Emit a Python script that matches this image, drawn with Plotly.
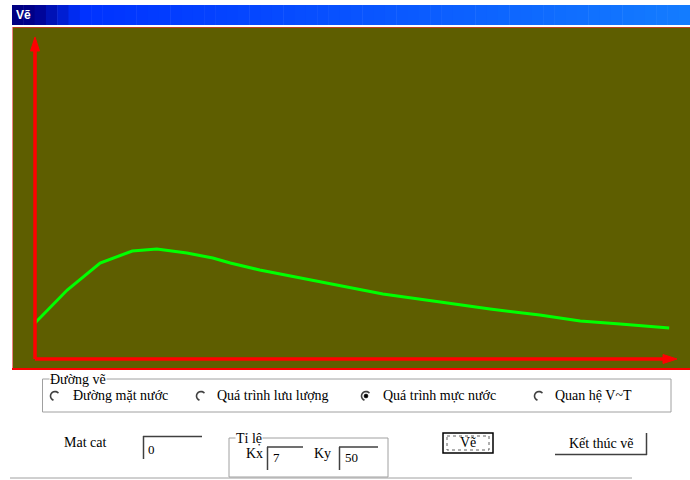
import math
import plotly.graph_objects as go

# ---- data (water level process) ----
time_h = [0, 4.6, 9.3, 13.9, 17.4, 21.7, 25.4, 27.9, 32.1, 37.9, 43.6, 49.7, 57.9, 65.0, 72.1, 77.9, 83.6, 90.6]
level = [36, 69, 96, 108, 110, 106, 101, 96, 89, 81, 73, 65, 57, 50, 44, 38, 35, 31]

radio_labels = ["Đường mặt nước", "Quá trình lưu lượng", "Quá trình mực nước", "Quan hệ V~T"]
group_title = "Đường vẽ"
scale_title = "Tỉ lệ"
kx_value = "7"
ky_value = "50"
section_value = "0"

W, H = 690, 480
L, R, T, B = 12, 0, 27, 110
PW, PH = W - L - R, H - T - B
XS = 7.0  # px per hour
XMIN = -(35 - L) / XS
XMAX = (W - 35) / XS
YMIN = -(370 - 359)
YMAX = 359 - 27

FS = 14


def px(x):
    return (x - L) / PW


def py(y):
    return (H - B - y) / PH


shapes = []
annos = []


def rect(x0, y0, x1, y1, fill=None, line=None, lw=1, dash=None):
    d = dict(type="rect", xref="paper", yref="paper", x0=px(x0), x1=px(x1), y0=py(y0), y1=py(y1),
             layer="above")
    d["fillcolor"] = fill if fill else "rgba(0,0,0,0)"
    if line:
        d["line"] = dict(color=line, width=lw, dash=dash) if dash else dict(color=line, width=lw)
    else:
        d["line"] = dict(width=0)
    shapes.append(d)


def hline(x0, x1, y, color, lw=1):
    shapes.append(dict(type="line", xref="paper", yref="paper", x0=px(x0), x1=px(x1), y0=py(y), y1=py(y),
                       line=dict(color=color, width=lw), layer="above"))


def vline(x, y0, y1, color, lw=1):
    shapes.append(dict(type="line", xref="paper", yref="paper", x0=px(x), x1=px(x), y0=py(y0), y1=py(y1),
                       line=dict(color=color, width=lw), layer="above"))


def text(x, y, s, size=FS, anchor="left", color="black", bg=None, family="Liberation Serif", bold=False):
    a = dict(xref="paper", yref="paper", x=px(x), y=py(y), text=("<b>%s</b>" % s) if bold else s,
             showarrow=False, xanchor=anchor, yanchor="middle",
             font=dict(family=family, size=size, color=color))
    if bg:
        a["bgcolor"] = bg
        a["borderpad"] = 0
    annos.append(a)


# ---- title bar gradient ----
stops = [(12, (0, 0, 128)), (35, (0, 0, 140)), (80, (0, 50, 255)), (690, (20, 125, 255))]
n = 60
for i in range(n):
    xa = 12 + (690 - 12) * i / n
    xb = 12 + (690 - 12) * (i + 1) / n
    xm = (xa + xb) / 2
    for j in range(len(stops) - 1):
        if stops[j][0] <= xm <= stops[j + 1][0]:
            t = (xm - stops[j][0]) / (stops[j + 1][0] - stops[j][0])
            c = [int(stops[j][1][k] + t * (stops[j + 1][1][k] - stops[j][1][k])) for k in range(3)]
            break
    rect(xa, 5, xb + 0.5, 25, fill="rgb(%d,%d,%d)" % tuple(c))
text(14, 15, "Vẽ", size=12, color="white", family="Liberation Sans", bold=True)

# ---- panel borders ----
hline(12, 690, 27.5, "#C04020", 1)
vline(12.5, 27, 370, "#F08080", 1)
hline(12, 690, 369, "#FF0000", 2)

# ---- axes (red with arrows), in data coordinates ----
red = "#FF0000"
shapes.append(dict(type="line", xref="x", yref="y", x0=0, x1=0, y0=0, y1=YMAX - 48,
                   line=dict(color=red, width=3.5), layer="above"))
shapes.append(dict(type="line", xref="x", yref="y", x0=0, x1=(667 - 35) / XS, y0=0, y1=0,
                   line=dict(color=red, width=3.5), layer="above"))
ax_up = "M %f,%f L %f,%f L %f,%f Z" % (-4.5 / XS, YMAX - 24, 4.5 / XS, YMAX - 24, 0, YMAX - 10)
shapes.append(dict(type="path", xref="x", yref="y", path=ax_up, fillcolor=red, line=dict(color=red, width=1),
                   layer="above"))
ax_right = "M %f,%f L %f,%f L %f,%f Z" % ((663 - 35) / XS, 4.5, (663 - 35) / XS, -4.5, (677 - 35) / XS, 0)
shapes.append(dict(type="path", xref="x", yref="y", path=ax_right, fillcolor=red, line=dict(color=red, width=1),
                   layer="above"))
shapes.append(dict(type="rect", xref="x", yref="y", x0=-1.8 / XS, x1=1.8 / XS, y0=YMAX - 48, y1=YMAX - 22,
                   fillcolor=red, line=dict(width=0), layer="above"))

# ---- form controls ----
gray = "#A0A0A0"
dark = "#404040"
rect(42.5, 379, 671, 412, line=gray, lw=1)
text(49, 379, group_title, bg="white")

radio_x = [55, 201, 366, 539]
text_x = [71, 215, 381, 553]
for i, (rx, tx, lab) in enumerate(zip(radio_x, text_x, radio_labels)):
    pts = []
    for k in range(0, 13):
        ang = math.radians(40 + k * (250 - 40) / 12)
        pts.append((rx + 4.5 * math.cos(ang), 396 - 4.5 * math.sin(ang)))
    path = "M " + " L ".join("%f,%f" % (px(a), py(b)) for a, b in pts)
    shapes.append(dict(type="path", xref="paper", yref="paper", path=path, line=dict(color=dark, width=1.6),
                       layer="above"))
    if i == 2:
        shapes.append(dict(type="circle", xref="paper", yref="paper", x0=px(rx - 2), x1=px(rx + 2),
                           y0=py(394), y1=py(398), fillcolor="black", line=dict(color="black", width=0.5),
                           layer="above"))
    text(tx, 396, lab)

# Mat cat
text(62, 442, "Mat cat")
hline(143, 202, 436.5, dark, 1.5)
vline(143.5, 436, 459, dark, 1.5)
text(146, 449, section_value, size=13)

# Ti le group
rect(229, 438, 388, 477, line=gray, lw=1)
text(235, 438, scale_title, bg="white")
text(244, 453, "Kx")
hline(267, 303, 447, dark, 1.5)
vline(267.5, 447, 470, dark, 1.5)
text(271, 457, kx_value, size=13)
text(312, 453, "Ky")
hline(339, 378, 447, dark, 1.5)
vline(339.5, 447, 470, dark, 1.5)
text(343, 457, ky_value, size=13)

# buttons
rect(443, 433, 493, 453, line="black", lw=1.5)
rect(447, 436, 489, 450, line="#606060", lw=1, dash="dot")
text(468, 442, "Vẽ", anchor="center")
hline(555, 647, 454.5, dark, 1.5)
vline(646.5, 433, 455, dark, 1.5)
text(601, 443, "Kết thúc vẽ", anchor="center")

hline(10, 632, 478, gray, 1)

fig = go.Figure()
fig.add_trace(go.Scatter(x=time_h, y=level, mode="lines", line=dict(color="#00FF00", width=3),
                         hoverinfo="skip", showlegend=False))
fig.update_layout(
    width=W, height=H, margin=dict(l=L, r=R, t=T, b=B, pad=0),
    paper_bgcolor="white", plot_bgcolor="#5E5E00",
    xaxis=dict(range=[XMIN, XMAX], showgrid=False, zeroline=False, showticklabels=False, showline=False,
               fixedrange=True),
    yaxis=dict(range=[YMIN, YMAX], showgrid=False, zeroline=False, showticklabels=False, showline=False,
               fixedrange=True),
    shapes=shapes, annotations=annos, showlegend=False,
)
fig.write_html("out.html", config={"displayModeBar": False},
               post_script="document.body.style.margin='0';document.body.style.overflow='hidden';")
